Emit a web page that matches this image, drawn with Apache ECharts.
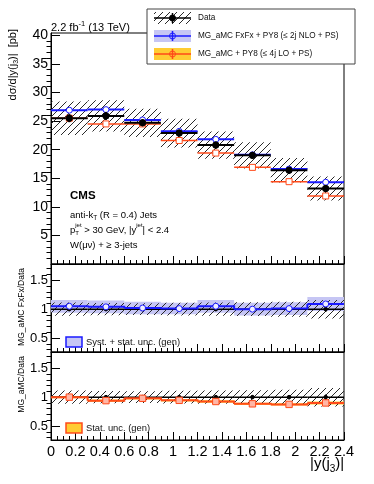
<!DOCTYPE html>
<html><head><meta charset="utf-8">
<script src="https://cdn.jsdelivr.net/npm/echarts@6/dist/echarts.min.js"></script>
<style>html,body{margin:0;padding:0;background:#fff}#c{width:374px;height:484px}</style>
</head><body><div id="c"></div>
<script>
// ---------------- DATA ----------------
const binEdges = [0, 0.3, 0.6, 0.9, 1.2, 1.5, 1.8, 2.1, 2.4];
const dataXsec = [25.5, 25.9, 24.7, 22.9, 20.8, 19.0, 16.4, 13.2];
const dataStatErr = [0.7, 0.7, 0.6, 0.6, 0.6, 0.6, 0.6, 0.6];
const dataSystRel = [0.115, 0.105, 0.10, 0.11, 0.115, 0.12, 0.13, 0.16];
const fxfxXsec = [26.9, 27.0, 25.2, 23.2, 21.8, 19.1, 16.6, 14.3];
const loXsec = [25.5, 24.5, 24.5, 21.6, 19.4, 16.9, 14.4, 11.9];
const fxfxRatio = [1.05, 1.04, 1.02, 1.01, 1.05, 1.00, 1.01, 1.09];
const fxfxRatioUnc = [0.11, 0.11, 0.11, 0.10, 0.11, 0.11, 0.11, 0.12];
const loRatio = [1.00, 0.94, 0.98, 0.945, 0.925, 0.885, 0.875, 0.90];
const loRatioUnc = [0.02, 0.02, 0.02, 0.02, 0.02, 0.02, 0.02, 0.025];
const dataRatio = [1, 1, 1, 1, 1, 1, 1, 1];
const dataRatioStat = [0.03, 0.03, 0.03, 0.03, 0.03, 0.03, 0.035, 0.045];
// tick labels
const xTickLabels = ['0','0.2','0.4','0.6','0.8','1','1.2','1.4','1.6','1.8','2','2.2','2.4'];
const topYTicks = [5, 10, 15, 20, 25, 30, 35, 40];
const ratioYTicks = [0.5, 1, 1.5];

// ---------------- HELPERS ----------------
const FONT = '"Liberation Sans", Arial, Helvetica, sans-serif';
const BLUE = '#1a1aff', ORANGE = '#ff4a1a', BLUEBAND = '#c6c6f4', ORANGEBAND = '#ffcc33';
const mctx = document.createElement('canvas').getContext('2d');
function tw(t, size, bold) { mctx.font = (bold ? 'bold ' : '') + size + 'px ' + FONT; return mctx.measureText(t).width; }
function hatchCanvas() {
  const s = 7, cv = document.createElement('canvas'); cv.width = s; cv.height = s;
  const c = cv.getContext('2d'); c.strokeStyle = '#2a2a2a'; c.lineWidth = 1;
  c.beginPath();
  c.moveTo(0, s); c.lineTo(s, 0);
  c.moveTo(-1, 1); c.lineTo(1, -1);
  c.moveTo(s - 1, s + 1); c.lineTo(s + 1, s - 1);
  c.stroke();
  return cv;
}
const HATCH = { image: hatchCanvas(), repeat: 'repeat' };

function txt(x, y, t, size, opt) {
  opt = opt || {};
  return { type: 'text', x: x, y: y, z: 100, silent: true,
    style: { text: t, font: (opt.bold ? 'bold ' : '') + size + 'px ' + FONT, fill: opt.color || '#000',
      align: opt.align || 'left', textAlign: opt.align || 'left', verticalAlign: 'middle', textVerticalAlign: 'middle' } };
}
// pieces: {t, s, dy, noAdv, b}
function lineEls(pieces, base) {
  let x = 0, pending = 0; const els = [];
  pieces.forEach(p => {
    const s = p.s || base;
    els.push(txt(x, p.dy || 0, p.t, s, { bold: p.b }));
    const w = tw(p.t, s, p.b);
    if (p.noAdv) { pending = w; } else { x += Math.max(w, pending); pending = 0; }
  });
  return { els: els, width: x };
}
function textLine(x, y, pieces, base, rotate) {
  const L = lineEls(pieces, base);
  if (rotate) {
    L.els.forEach(e => { e.x -= L.width; });
    return { type: 'group', x: x, y: y, rotation: Math.PI / 2, z: 100, children: L.els };
  }
  return { type: 'group', x: x, y: y, z: 100, children: L.els };
}

const nb = dataXsec.length;
const lo = i => binEdges[i], hi = i => binEdges[i + 1], ctr = i => (binEdges[i] + binEdges[i + 1]) / 2;

// ---------------- AXES ----------------
const GRIDS = [
  { left: 51, top: 33, width: 293, height: 231 },
  { left: 51, top: 264, width: 293, height: 88 },
  { left: 51, top: 352, width: 293, height: 88 }
].map(g => Object.assign(g, { show: true, borderColor: '#000', borderWidth: 1, backgroundColor: 'transparent' }));

const xAxes = [0, 1, 2].map(g => ({
  type: 'value', gridIndex: g, min: 0, max: 2.4, interval: 0.2,
  axisLine: { show: true, onZero: false, lineStyle: { color: '#000', width: 1 } },
  axisTick: { show: true, inside: true, length: 8, lineStyle: { color: '#000' } },
  minorTick: { show: true, splitNumber: 4, length: 4, lineStyle: { color: '#000' } },
  splitLine: { show: false },
  axisLabel: { show: g === 2, fontSize: 14.5, fontFamily: FONT, color: '#000', margin: 4,
    formatter: v => xTickLabels[Math.round(v / 0.2)] }
}));
function yPair(g, min, max, majors, minors, labelSize) {
  return [{
    type: 'value', gridIndex: g, min: min, max: max,
    axisLine: { show: true, onZero: false, lineStyle: { color: '#000', width: 1 } },
    axisTick: { show: true, inside: true, length: 9, customValues: majors, lineStyle: { color: '#000' } },
    axisLabel: { show: true, customValues: majors, fontSize: labelSize, fontFamily: FONT, color: '#000', margin: 3 },
    splitLine: { show: false }
  }, {
    type: 'value', gridIndex: g, min: min, max: max,
    axisLine: { show: false },
    axisTick: { show: true, inside: true, length: 4.5, customValues: minors, lineStyle: { color: '#000' } },
    axisLabel: { show: false }, splitLine: { show: false }
  }];
}
const topMinor = []; for (let v = 1; v < 40.4; v++) if (v % 5) topMinor.push(v);
const ratioMinor = []; for (let k = 3; k <= 17; k++) if (k % 5) ratioMinor.push(k / 10);
const yAxes = [].concat(
  yPair(0, 0, 40.4, topYTicks, topMinor, 14),
  yPair(1, 0.26, 1.78, ratioYTicks, ratioMinor, 13),
  yPair(2, 0.26, 1.78, ratioYTicks, ratioMinor, 13)
);

// ---------------- SERIES BUILDERS ----------------
function custom(g, data, render, z) {
  return { type: 'custom', xAxisIndex: g, yAxisIndex: g * 2, data: data, z: z, silent: true,
    renderItem: render, clip: false, animation: false };
}
function rectRender(fill, stroke) {
  return (p, api) => {
    const a = api.coord([api.value(0), api.value(3)]), b = api.coord([api.value(1), api.value(2)]);
    return { type: 'rect', shape: { x: a[0], y: a[1], width: b[0] - a[0], height: b[1] - a[1] },
      style: { fill: fill, stroke: stroke || null, lineWidth: 0 } };
  };
}
function segRender(color, w) {
  return (p, api) => {
    const a = api.coord([api.value(0), api.value(2)]), b = api.coord([api.value(1), api.value(2)]);
    return { type: 'line', shape: { x1: a[0], y1: a[1], x2: b[0], y2: b[1] }, style: { stroke: color, lineWidth: w } };
  };
}
function stepRender(color, w) {
  return (p, api) => {
    const a = api.coord([api.value(0), api.value(2)]), b = api.coord([api.value(1), api.value(2)]);
    const c = api.coord([api.value(1), api.value(3)]);
    return { type: 'polyline', shape: { points: [a, b, c] }, style: { stroke: color, lineWidth: w, fill: null } };
  };
}
function markRender(shape, stroke, fill, r, errColor, errW) {
  return (p, api) => {
    const x = api.value(0), y = api.value(1), e = api.value(2);
    const c = api.coord([x, y]), t = api.coord([x, y + e]), bt = api.coord([x, y - e]);
    const kids = [{ type: 'line', shape: { x1: c[0], y1: t[1], x2: c[0], y2: bt[1] }, style: { stroke: errColor, lineWidth: errW } }];
    if (shape === 'circle') kids.push({ type: 'circle', shape: { cx: c[0], cy: c[1], r: r }, style: { fill: fill, stroke: stroke, lineWidth: 1 } });
    else kids.push({ type: 'rect', shape: { x: c[0] - r, y: c[1] - r, width: 2 * r, height: 2 * r }, style: { fill: fill, stroke: stroke, lineWidth: 1 } });
    return { type: 'group', children: kids };
  };
}
const idx = [...Array(nb).keys()];

const series = [
  // ---- top panel ----
  custom(0, idx.map(i => [lo(i), hi(i), dataXsec[i] * (1 - dataSystRel[i]), dataXsec[i] * (1 + dataSystRel[i])]), rectRender(HATCH), 2),
  custom(0, idx.map(i => [lo(i), hi(i), fxfxXsec[i]]), segRender(BLUE, 2), 3),
  custom(0, idx.map(i => [lo(i), hi(i), loXsec[i]]), segRender(ORANGE, 1.5), 3),
  custom(0, idx.map(i => [lo(i), hi(i), dataXsec[i]]), segRender('#000', 2), 4),
  custom(0, idx.map(i => [ctr(i), fxfxXsec[i], 0.25]), markRender('circle', BLUE, '#fff', 3, BLUE, 1.5), 5),
  custom(0, idx.map(i => [ctr(i), loXsec[i], 0.25]), markRender('rect', ORANGE, '#fff', 3, ORANGE, 1.5), 5),
  custom(0, idx.map(i => [ctr(i), dataXsec[i], dataStatErr[i]]), markRender('circle', '#000', '#000', 3.2, '#000', 2), 6),
  // ---- middle panel ----
  custom(1, idx.map(i => [lo(i), hi(i), fxfxRatio[i] - fxfxRatioUnc[i], fxfxRatio[i] + fxfxRatioUnc[i]]), rectRender(BLUEBAND), 1),
  custom(1, idx.map(i => [lo(i), hi(i), dataRatio[i] * (1 - dataSystRel[i]), dataRatio[i] * (1 + dataSystRel[i])]), rectRender(HATCH), 2),
  custom(1, idx.map(i => [lo(i), hi(i), dataRatio[i]]), segRender('#000', 1.5), 3),
  custom(1, idx.map(i => [lo(i), hi(i), fxfxRatio[i], i < nb - 1 ? fxfxRatio[i + 1] : fxfxRatio[i]]), stepRender(BLUE, 2), 4),
  custom(1, idx.map(i => [ctr(i), dataRatio[i], dataRatioStat[i]]), markRender('circle', '#000', '#000', 1.8, '#000', 1.5), 5),
  custom(1, idx.map(i => [ctr(i), fxfxRatio[i], 0.01]), markRender('circle', BLUE, '#eef', 3, BLUE, 1), 6),
  // ---- bottom panel ----
  custom(2, idx.map(i => [lo(i), hi(i), loRatio[i] - loRatioUnc[i], loRatio[i] + loRatioUnc[i]]), rectRender(ORANGEBAND), 1),
  custom(2, idx.map(i => [lo(i), hi(i), dataRatio[i] * (1 - dataSystRel[i]), dataRatio[i] * (1 + dataSystRel[i])]), rectRender(HATCH), 2),
  custom(2, idx.map(i => [lo(i), hi(i), dataRatio[i]]), segRender('#000', 1.5), 3),
  custom(2, idx.map(i => [lo(i), hi(i), loRatio[i], i < nb - 1 ? loRatio[i + 1] : loRatio[i]]), stepRender(ORANGE, 2), 4),
  custom(2, idx.map(i => [ctr(i), dataRatio[i], dataRatioStat[i]]), markRender('circle', '#000', '#000', 1.8, '#000', 1.5), 5),
  custom(2, idx.map(i => [ctr(i), loRatio[i], 0.01]), markRender('rect', ORANGE, '#ffb6a6', 3.2, ORANGE, 1), 6)
];

// ---------------- GRAPHIC (texts, legends) ----------------
const graphic = [];
graphic.push({ type: 'rect', z: 90, shape: { x: 147, y: 9, width: 208, height: 55 }, style: { fill: '#fff', stroke: '#444', lineWidth: 1 } });
const legRows = [
  { y: 18, fill: HATCH, line: '#000', mfill: '#000', mstroke: '#000', label: 'Data' },
  { y: 36, fill: BLUEBAND, line: BLUE, mfill: 'none', mstroke: BLUE, label: 'MG_aMC FxFx + PY8 (\u2264 2j NLO + PS)' },
  { y: 54, fill: ORANGEBAND, line: ORANGE, mfill: 'none', mstroke: ORANGE, label: 'MG_aMC + PY8 (\u2264 4j LO + PS)' }
];
legRows.forEach(r => {
  graphic.push({ type: 'rect', z: 95, shape: { x: 154, y: r.y - 6, width: 37, height: 12 }, style: { fill: r.fill } });
  graphic.push({ type: 'line', z: 96, shape: { x1: 154, y1: r.y, x2: 191, y2: r.y }, style: { stroke: r.line, lineWidth: 1.5 } });
  graphic.push({ type: 'line', z: 96, shape: { x1: 172.5, y1: r.y - 5, x2: 172.5, y2: r.y + 5 }, style: { stroke: r.line, lineWidth: 1.5 } });
  graphic.push({ type: 'circle', z: 97, shape: { cx: 172.5, cy: r.y, r: 3 }, style: { fill: r.mfill, stroke: r.mstroke, lineWidth: 1 } });
  graphic.push(txt(198, r.y, r.label, 8.2, { color: '#111' }));
});
graphic.push(textLine(51, 27.5, [{ t: '2.2 fb' }, { t: '-1', s: 7.5, dy: -4 }, { t: ' (13 TeV)' }], 11));
graphic.push(txt(70, 196, 'CMS', 11.5, { bold: true }));
graphic.push(textLine(70, 215.5, [{ t: 'anti-k' }, { t: 'T', s: 6.5, dy: 3 }, { t: ' (R = 0.4) Jets' }], 9.5));
graphic.push(textLine(70, 230.5, [{ t: 'p' }, { t: 'jet', s: 6, dy: -5, noAdv: true }, { t: 'T', s: 6, dy: 3 }, { t: ' > 30 GeV, |y' }, { t: 'jet', s: 6, dy: -5 }, { t: '| < 2.4' }], 9.5));
graphic.push(txt(70, 245, 'W(\u03bc\u03bd) + \u2265 3-jets', 9.5));
graphic.push(textLine(13, 29, [{ t: 'd\u03c3/d|y(j' }, { t: '3', s: 7, dy: 3 }, { t: ')|  [pb]' }], 11, true));
graphic.push(textLine(22, 268, [{ t: 'MG_aMC FxFx/Data' }], 8.5, true));
graphic.push(textLine(22, 356, [{ t: 'MG_aMC/Data' }], 8.5, true));
graphic.push(textLine(310, 464, [{ t: '|y(j' }, { t: '3', s: 10, dy: 5 }, { t: ')|' }], 15));
graphic.push({ type: 'rect', z: 95, shape: { x: 66, y: 337, width: 16, height: 10 }, style: { fill: BLUEBAND, stroke: BLUE, lineWidth: 1.5 } });
graphic.push(txt(86, 342, 'Syst. + stat. unc. (gen)', 9.4, { color: '#111' }));
graphic.push({ type: 'rect', z: 95, shape: { x: 66, y: 423, width: 16, height: 10 }, style: { fill: ORANGEBAND, stroke: ORANGE, lineWidth: 1.5 } });
graphic.push(txt(86, 428, 'Stat. unc. (gen)', 9.4, { color: '#111' }));

const chart = echarts.init(document.getElementById('c'), null, { renderer: 'canvas' });
chart.setOption({
  animation: false,
  backgroundColor: '#fff',
  grid: GRIDS,
  xAxis: xAxes,
  yAxis: yAxes,
  series: series,
  graphic: graphic
});
</script></body></html>
